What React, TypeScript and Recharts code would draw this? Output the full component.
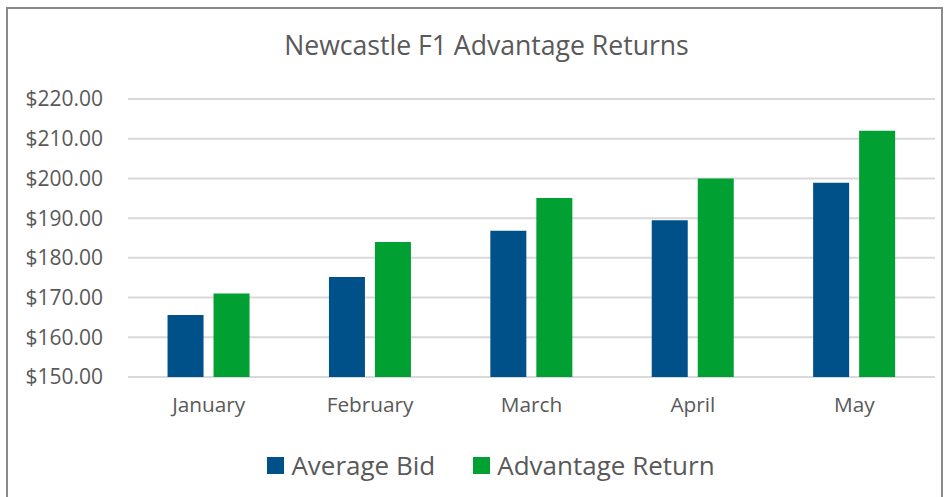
import { BarChart, Bar, XAxis, YAxis, CartesianGrid } from "recharts";

const C = { grid: "#d9d9d9", text: "#595959", blue: "#00508A", green: "#00A033", frame: "#8a8a8a" };
const FONT = "'Open Sans', sans-serif";

const months = ["January", "February", "March", "April", "May"];
const averageBid = [165.6, 175.2, 186.8, 189.5, 198.9];
const advantageReturn = [171, 184, 195.1, 200, 212];
const yTicks = [150, 160, 170, 180, 190, 200, 210, 220];

const series = [
  { key: "Average Bid", color: C.blue },
  { key: "Advantage Return", color: C.green },
];

const data = months.map((month, i) => ({
  month,
  "Average Bid": averageBid[i],
  "Advantage Return": advantageReturn[i],
}));

export default function App() {
  return (
    <div style={{ position: "absolute", left: 0, top: 0, width: 949, height: 497, background: "#fff", overflow: "hidden" }}>
      <div
        style={{
          position: "absolute", left: 6, top: 7, width: 937, height: 520,
          borderTop: `2px solid ${C.frame}`, borderLeft: `2px solid ${C.frame}`, borderRight: `2px solid ${C.frame}`,
          boxSizing: "border-box",
        }}
      />
      <div
        style={{
          position: "absolute", left: 0, top: 27, width: 973, textAlign: "center",
          fontFamily: FONT, fontSize: 26.6, color: C.text,
        }}
      >
        Newcastle F1 Advantage Returns
      </div>
      <div style={{ position: "absolute", left: 0, top: 0 }}>
        <BarChart
          width={949}
          height={497}
          data={data}
          margin={{ top: 99, right: 14, left: 0, bottom: 90 }}
          barCategoryGap="24.5%"
          barGap={10}
        >
          <CartesianGrid stroke={C.grid} strokeWidth={2} vertical={false} />
          <XAxis
            dataKey="month"
            height={30}
            axisLine={false}
            tickLine={false}
            tick={{ fill: C.text, fontSize: 20.8, fontFamily: FONT }}
            tickMargin={14}
          />
          <YAxis
            domain={[150, 220]}
            ticks={yTicks}
            width={128}
            axisLine={false}
            tickLine={false}
            tickMargin={19}
            tickFormatter={(v: number) => `$${v.toFixed(2)}`}
            tick={{ fill: C.text, fontSize: 21, fontFamily: FONT }}
          />
          {series.map((s) => (
            <Bar key={s.key} dataKey={s.key} fill={s.color} isAnimationActive={false} />
          ))}
        </BarChart>
      </div>
      <div
        style={{
          position: "absolute", left: 0, top: 447, width: 982, display: "flex", justifyContent: "center",
          gap: 38, fontFamily: FONT,
        }}
      >
        {series.map((s) => (
          <div key={s.key} style={{ display: "flex", alignItems: "center" }}>
            <span style={{ width: 17, height: 17, background: s.color, display: "inline-block", marginRight: 7 }} />
            <span style={{ fontSize: 26, color: C.text }}>{s.key}</span>
          </div>
        ))}
      </div>
    </div>
  );
}
